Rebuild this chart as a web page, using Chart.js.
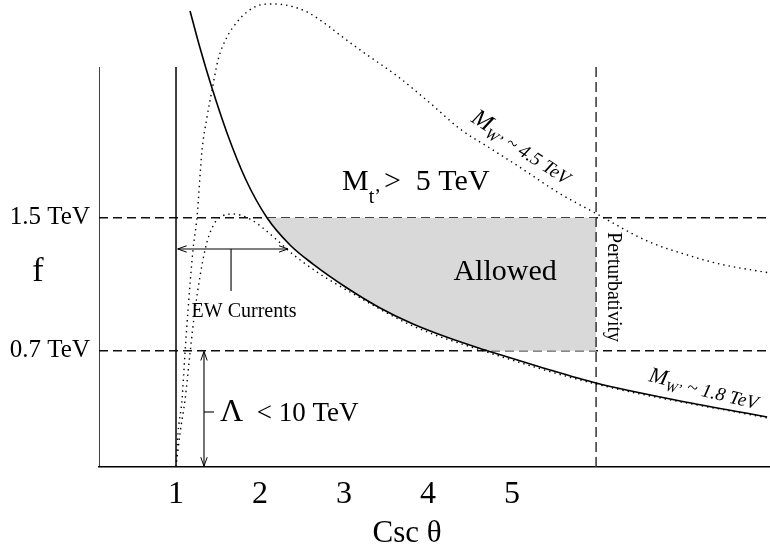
<!DOCTYPE html>
<html>
<head>
<meta charset="utf-8">
<script src="https://cdn.jsdelivr.net/npm/chart.js@4/dist/chart.umd.min.js"></script>
<style>
  html, body { margin: 0; padding: 0; background: #fff; }
  canvas { display: block; }
</style>
</head>
<body>
<canvas id="c" width="770" height="550"></canvas>
<script>
// Parameter space: Csc θ (horizontal) against f in TeV (vertical)
const xTicks = [1, 2, 3, 4, 5];
const yTicks = [0.7, 1.5];
const xRange = [1 / 12, 8.07];
const yRange = [0, 2.81];

// Limits
const fLow = 0.7;          // Λ < 10 TeV
const fHigh = 1.5;         // EW currents bound
const cscPert = 6;         // perturbativity
const cscOne = 1;
const frameTop = 2.407;

// M_t' = 5 TeV boundary
const mtX = [1.167, 1.286, 1.417, 1.607, 1.833, 2.083, 2.357, 2.631, 3.036, 3.429, 3.821, 4.226, 4.619, 4.702, 5.333, 6.0, 7.0, 8.036];
const mtY = [2.744, 2.521, 2.298, 2.010, 1.727, 1.500, 1.336, 1.221, 1.077, 0.957, 0.860, 0.780, 0.713, 0.700, 0.602, 0.505, 0.397, 0.301];

// M_W' ~ 4.5 TeV contour
const w45X = [1.0, 1.024, 1.071, 1.107, 1.143, 1.202, 1.25, 1.31, 1.369, 1.429, 1.5, 1.607, 1.726, 1.845, 2.0, 2.155, 2.357, 2.56, 2.798, 2.952, 3.226, 3.631, 4.024, 4.381, 4.774, 5.179, 5.536, 6.012, 6.607, 7.083, 7.476, 8.071];
const w45Y = [0.0, 0.205, 0.403, 0.686, 0.945, 1.306, 1.504, 1.907, 2.106, 2.268, 2.449, 2.587, 2.677, 2.738, 2.780, 2.786, 2.774, 2.738, 2.659, 2.599, 2.497, 2.353, 2.190, 2.034, 1.907, 1.775, 1.655, 1.522, 1.360, 1.276, 1.221, 1.167];

// M_W' ~ 1.8 TeV contour
const w18X = [1.0, 1.048, 1.107, 1.167, 1.226, 1.345, 1.44, 1.548, 1.679, 1.881, 2.202, 2.357, 2.679, 3.071, 3.821, 4.619, 6.0, 8.036];
const w18Y = [0.0, 0.205, 0.403, 0.686, 0.945, 1.306, 1.450, 1.510, 1.522, 1.492, 1.366, 1.294, 1.173, 1.053, 0.848, 0.705, 0.499, 0.295];

// Arrows: EW currents span and Λ span
const ewArrowX = [1.02, 2.333];
const ewArrowY = 1.312;
const ewStemX = 1.655;
const ewStemY = [1.312, 1.059];
const lamArrowX = 1.333;
const lamArrowY = [0.005, 0.695];
const lamTickX = [1.333, 1.452];
const lamTickY = 0.331;

const pts = (xs, ys) => xs.map((x, i) => ({ x, y: ys[i] }));

// Allowed region: below f = 1.5, above max(M_t' bound, 0.7), left of perturbativity
const allowedPts = pts(mtX, mtY).filter(p => p.y <= fHigh && p.y >= fLow);
allowedPts.push({ x: cscPert, y: fLow });

const SERIF = '"Liberation Serif", "Times New Roman", serif';
const font = (size, style) => `${style || ''} ${size}px ${SERIF}`;

const textLabels = [
  { x: 4.917, y: 1.173, align: 'center', base: 'middle', runs: [{ text: 'Allowed', font: font(30) }] },
  { x: 2.976, y: 1.667, runs: [
      { text: 'M', font: font(30) },
      { text: 't\u2019', font: font(20), dy: 13 },
      { text: '>  5 TeV', font: font(30), pre: 3 } ] },
  { x: 1.81, y: 0.932, align: 'center', base: 'middle', runs: [{ text: 'EW Currents', font: font(20) }] },
  { x: 1.524, y: 0.277, runs: [
      { text: '\u039B', font: font(32) },
      { text: '  < 10 TeV', font: font(27) } ] },
  { x: 6.202, y: 1.083, angle: 90, align: 'center', base: 'middle', runs: [{ text: 'Perturbativity', font: font(20) }] },
  { x: 4.5, y: 2.082, angle: 33, runs: [
      { text: 'M', font: font(24, 'italic') },
      { text: 'W\u2019', font: font(15, 'italic'), dy: 5 },
      { text: ' ~ 4.5 TeV', font: font(19, 'italic'), dy: 2 } ] },
  { x: 6.619, y: 0.517, angle: 13.5, runs: [
      { text: 'M', font: font(22, 'italic') },
      { text: 'W\u2019', font: font(14, 'italic'), dy: 5 },
      { text: ' ~ 1.8 TeV', font: font(19, 'italic'), dy: 2 } ] },
  { x: -0.643, y: 1.173, align: 'center', base: 'middle', runs: [{ text: 'f', font: font(34) }] },
  { x: 3.75, y: -0.40, align: 'center', base: 'middle', runs: [{ text: 'Csc \u03B8', font: font(31) }] }
];

function drawHead(ctx, tip, from) {
  const dx = tip.x - from.x, dy = tip.y - from.y;
  const len = Math.hypot(dx, dy) || 1;
  const ux = dx / len, uy = dy / len;
  const L = 9, W = 3.2;
  ctx.beginPath();
  ctx.moveTo(tip.x - L * ux - W * uy, tip.y - L * uy + W * ux);
  ctx.lineTo(tip.x, tip.y);
  ctx.lineTo(tip.x - L * ux + W * uy, tip.y - L * uy - W * ux);
  ctx.stroke();
}

const annotate = {
  id: 'annotate',
  afterDatasetsDraw(chart) {
    const ctx = chart.ctx;
    ctx.save();
    ctx.strokeStyle = '#000';
    ctx.lineWidth = 1;
    chart.data.datasets.forEach((ds, i) => {
      if (!ds.arrowHeads) return;
      const p = chart.getDatasetMeta(i).data;
      drawHead(ctx, p[0], p[1]);
      drawHead(ctx, p[p.length - 1], p[p.length - 2]);
    });
    ctx.restore();
  },
  afterDraw(chart) {
    const ctx = chart.ctx;
    const sx = chart.scales.x, sy = chart.scales.y;
    textLabels.forEach(lb => {
      const px = sx.getPixelForValue(lb.x);
      const py = sy.getPixelForValue(lb.y);
      ctx.save();
      ctx.fillStyle = '#000';
      ctx.translate(px, py);
      ctx.rotate((lb.angle || 0) * Math.PI / 180);
      ctx.textBaseline = lb.base || 'alphabetic';
      let total = 0;
      lb.runs.forEach(r => { ctx.font = r.font; total += (r.pre || 0) + ctx.measureText(r.text).width; });
      let cx = lb.align === 'center' ? -total / 2 : 0;
      ctx.textAlign = 'left';
      lb.runs.forEach(r => {
        ctx.font = r.font;
        cx += r.pre || 0;
        ctx.fillText(r.text, cx, r.dy || 0);
        cx += ctx.measureText(r.text).width;
      });
      ctx.restore();
    });
  }
};

const dotted = { borderColor: '#000', borderWidth: 1.4, borderDash: [1.4, 4], pointRadius: 0, fill: false, cubicInterpolationMode: 'monotone' };
const plain = { borderColor: '#000', borderWidth: 1.5, pointRadius: 0, fill: false };

const noEdgePadding = s => { s.paddingTop = 0; s.paddingBottom = 0; s.paddingLeft = 0; s.paddingRight = 0; };

new Chart(document.getElementById('c'), {
  type: 'line',
  data: {
    datasets: [
      { label: 'Allowed', data: allowedPts, backgroundColor: '#d9d9d9', borderWidth: 0, borderColor: 'rgba(0,0,0,0)',
        pointRadius: 0, fill: { value: fHigh }, cubicInterpolationMode: 'monotone', order: 10 },
      Object.assign({ label: 'M_t\u2019 = 5 TeV', data: pts(mtX, mtY), cubicInterpolationMode: 'monotone' }, plain, { borderWidth: 1.6 }),
      Object.assign({ label: 'M_W\u2019 ~ 4.5 TeV', data: pts(w45X, w45Y) }, dotted),
      Object.assign({ label: 'M_W\u2019 ~ 1.8 TeV', data: pts(w18X, w18Y) }, dotted),
      Object.assign({ label: 'f axis', data: [{ x: xRange[0], y: yRange[0] }, { x: xRange[0], y: frameTop }] }, plain),
      Object.assign({ label: 'Csc θ = 1', data: [{ x: cscOne, y: yRange[0] }, { x: cscOne, y: frameTop }] }, plain),
      { label: 'Perturbativity', data: [{ x: cscPert, y: yRange[0] }, { x: cscPert, y: frameTop }],
        borderColor: '#333', borderWidth: 1.5, borderDash: [10, 5], pointRadius: 0, fill: false },
      Object.assign({ label: 'EW Currents', data: ewArrowX.map(x => ({ x, y: ewArrowY })), arrowHeads: true }, plain, { borderWidth: 1.1 }),
      Object.assign({ label: 'EW stem', data: ewStemY.map(y => ({ x: ewStemX, y })) }, plain, { borderWidth: 1.1 }),
      Object.assign({ label: 'Λ', data: lamArrowY.map(y => ({ x: lamArrowX, y })), arrowHeads: true }, plain, { borderWidth: 1.1 }),
      Object.assign({ label: 'Λ tick', data: lamTickX.map(x => ({ x, y: lamTickY })) }, plain, { borderWidth: 1.1 })
    ]
  },
  options: {
    responsive: false,
    animation: false,
    devicePixelRatio: 1,
    layout: { padding: 0 },
    plugins: { legend: { display: false }, tooltip: { enabled: false } },
    scales: {
      x: {
        type: 'linear',
        min: xRange[0], max: xRange[1],
        afterBuildTicks: s => { s.ticks = xTicks.map(v => ({ value: v })); },
        afterFit: s => { s.height = 83; noEdgePadding(s); },
        grid: { display: false, drawTicks: false },
        border: { display: true, color: '#000', width: 1.5 },
        ticks: { color: '#000', padding: 8, maxRotation: 0, font: { family: SERIF, size: 32 }, callback: v => String(v) }
      },
      y: {
        type: 'linear',
        min: yRange[0], max: yRange[1],
        z: 1,
        afterBuildTicks: s => { s.ticks = yTicks.map(v => ({ value: v })); },
        afterFit: s => { s.width = 99; noEdgePadding(s); },
        grid: { display: true, color: '#111', lineWidth: 1.4, drawTicks: false },
        border: { display: false, dash: [9, 5] },
        ticks: { color: '#000', padding: 9, font: { family: SERIF, size: 25 }, callback: v => v.toFixed(1) + ' TeV' }
      }
    }
  },
  plugins: [annotate]
});
</script>
</body>
</html>
